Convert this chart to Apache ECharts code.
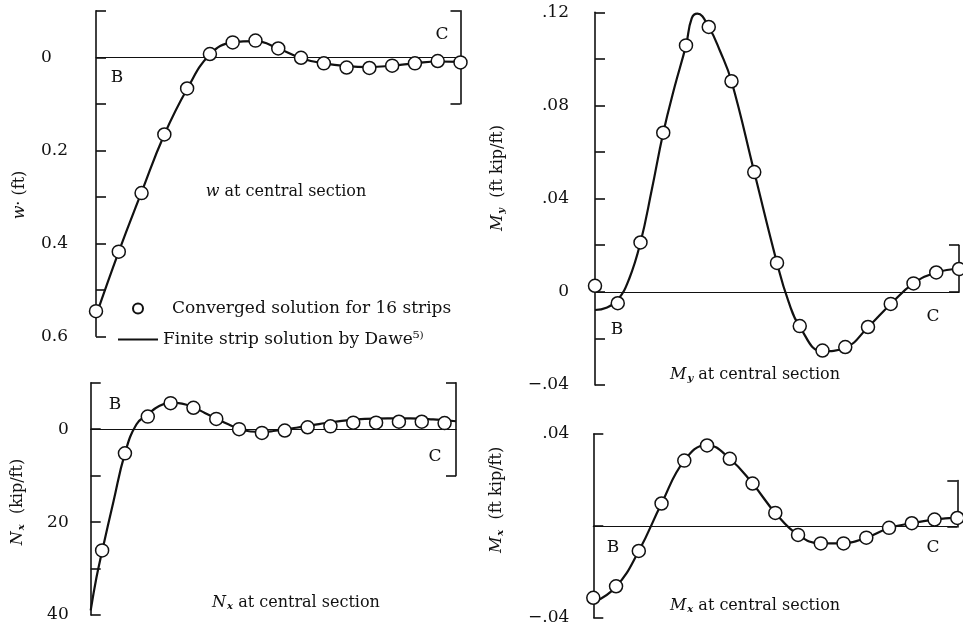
<!DOCTYPE html>
<html><head><meta charset="utf-8">
<script src="https://cdn.jsdelivr.net/npm/echarts@6/dist/echarts.min.js"></script>
<style>html,body{margin:0;padding:0;background:#fff}#c{width:963px;height:626px}</style>
</head><body><div id="c"></div>
<script>
// ---------- data ----------
const CONV = 'Converged solution for 16 strips';
const DAWE = 'Finite strip solution by Dawe\u2075\u207E';

const nodeX = [0,1,2,3,4,5,6,7,8,9,10,11,12,13,14,15,16];
const midX = [0.5,1.5,2.5,3.5,4.5,5.5,6.5,7.5,8.5,9.5,10.5,11.5,12.5,13.5,14.5,15.5];

// w at central section (ft), positive downward
const wConverged = [0.546,0.418,0.292,0.166,0.067,-0.007,-0.032,-0.036,-0.019,0.001,0.013,0.022,0.023,0.018,0.013,0.008,0.011];
const wDaweX = [0,1,2,3,4,5,6,7,8,9,10,11,12,13,14,15,16];
const wDawe = [0.556,0.418,0.290,0.166,0.068,-0.006,-0.032,-0.035,-0.019,0.002,0.013,0.019,0.021,0.018,0.013,0.009,0.010];

// My at central section (ft kip/ft)
const myConverged = [0.0026,-0.0049,0.0212,0.0683,0.1058,0.1137,0.0904,0.0514,0.0124,-0.0147,-0.0252,-0.0237,-0.0151,-0.0052,0.0036,0.0083,0.0098];
const myDaweX = [0,0.5,1,1.5,2,2.5,3,3.5,4,4.25,4.5,5,5.5,6,7,8,8.5,9,10,11,12,13,14,15,16];
const myDawe = [-0.0078,-0.0068,-0.0035,0.0055,0.0212,0.044,0.0683,0.088,0.1058,0.1174,0.1194,0.1137,0.1033,0.0904,0.0514,0.0124,-0.004,-0.0150,-0.0255,-0.0240,-0.0152,-0.0052,0.0036,0.0083,0.0098];

// Nx at central section (kip/ft), positive downward
const nxConverged = [26.1,5.2,-2.7,-5.6,-4.6,-2.2,0.0,0.8,0.3,-0.4,-0.6,-1.4,-1.4,-1.6,-1.6,-1.3];
const nxDaweX = [0,0.25,0.5,1,1.5,2,2.5,3,3.5,4,4.5,5,5.5,6,6.5,7,7.5,8,9,10,11,12,13,14,15,16];
const nxDawe = [39,32,26.3,15.5,5.2,-1.0,-3.2,-5.0,-5.7,-5.5,-4.7,-3.5,-2.3,-1.1,-0.1,0.5,0.6,0.4,-0.3,-1.1,-1.8,-2.2,-2.3,-2.3,-2.1,-1.7];

// Mx at central section (ft kip/ft)
const mxConverged = [-0.0314,-0.0264,-0.0110,0.0097,0.0284,0.0350,0.0292,0.0184,0.0056,-0.0040,-0.0077,-0.0077,-0.0052,-0.0009,0.0011,0.0027,0.0034];
const mxDaweX = [0,1,2,3,4,5,6,7,8,9,10,11,12,13,14,15,16];
const mxDawe = [-0.0335,-0.0266,-0.0110,0.0097,0.0284,0.0352,0.0292,0.0184,0.0056,-0.0040,-0.0077,-0.0077,-0.0052,-0.0010,0.0011,0.0027,0.0035];

// axis ranges / ticks / labels
const wAxis = {min:-0.1, max:0.6, interval:0.1, inverse:true};
const wTickValues = [0,0.2,0.4,0.6];
const wTickLabels = ['0','0.2','0.4','0.6'];
const wBracket = [-0.1,0.1];

const myAxis = {min:-0.04, max:0.12, interval:0.02, inverse:false};
const myTickValues = [-0.04,0,0.04,0.08,0.12];
const myTickLabels = ['\u2212.04','0','.04','.08','.12'];
const myBracket = [0,0.02];

const nxAxis = {min:-10, max:40, interval:10, inverse:true};
const nxTickValues = [0,20,40];
const nxTickLabels = ['0','20','40'];
const nxBracket = [-10,10];

const mxAxis = {min:-0.04, max:0.04, interval:0.04, inverse:false};
const mxTickValues = [-0.04,0.04];
const mxTickLabels = ['\u2212.04','.04'];
const mxBracket = [0,0.02];

// ---------- layout ----------
const FONT = 'DejaVu Serif';
const INK = '#111';
const panels = [
  {grid:{left:96, top:10.8, width:364.5, height:325.5}, axis:wAxis, tv:wTickValues, tl:wTickLabels, br:wBracket,
   conv:[nodeX,wConverged], dawe:[wDaweX,wDawe], label:{margin:55, align:'left'}},
  {grid:{left:595, top:12.3, width:364, height:372.7}, axis:myAxis, tv:myTickValues, tl:myTickLabels, br:myBracket,
   conv:[nodeX,myConverged], dawe:[myDaweX,myDawe], label:{margin:26, align:'right'}},
  {grid:{left:90.7, top:382.7, width:365.3, height:232.3}, axis:nxAxis, tv:nxTickValues, tl:nxTickLabels, br:nxBracket,
   conv:[midX,nxConverged], dawe:[nxDaweX,nxDawe], label:{margin:22, align:'right'}},
  {grid:{left:593.3, top:434, width:364, height:186}, axis:mxAxis, tv:mxTickValues, tl:mxTickLabels, br:mxBracket,
   conv:[nodeX,mxConverged], dawe:[mxDaweX,mxDawe], label:{margin:24, align:'right'}}
];

function pixY(p, v){
  const a = p.axis, g = p.grid;
  const f = a.inverse ? (v - a.min)/(a.max - a.min) : (a.max - v)/(a.max - a.min);
  return g.top + f*g.height;
}

const grid = [], xAxis = [], yAxis = [], series = [];
panels.forEach((p, i) => {
  grid.push(Object.assign({containLabel:false}, p.grid));
  xAxis.push({gridIndex:i, type:'value', min:0, max:16,
    axisLine:{show:true, onZero:true, lineStyle:{color:INK, width:1.2}},
    axisTick:{show:false}, axisLabel:{show:false}, splitLine:{show:false}});
  yAxis.push({gridIndex:i, type:'value', min:p.axis.min, max:p.axis.max, interval:p.axis.interval,
    inverse:p.axis.inverse, position:'left',
    axisLine:{show:true, onZero:false, lineStyle:{color:INK, width:1.6}},
    axisTick:{show:true, inside:true, length:10, lineStyle:{color:INK, width:1.6}},
    splitLine:{show:false},
    axisLabel:{show:true, margin:p.label.margin, align:p.label.align, fontFamily:FONT, fontSize:17, color:INK,
      formatter:(v)=>{ for(let k=0;k<p.tv.length;k++){ if(Math.abs(v-p.tv[k])<1e-9) return p.tl[k]; } return ''; }}
  });
  series.push({name:DAWE, type:'line', xAxisIndex:i, yAxisIndex:i, smooth:0.45, symbol:'none', showSymbol:false,
    itemStyle:{color:INK}, lineStyle:{color:INK, width:2.2}, z:2,
    data:p.dawe[0].map((x,k)=>[x,p.dawe[1][k]])});
  series.push({name:CONV, type:'scatter', xAxisIndex:i, yAxisIndex:i, symbol:'circle', symbolSize:13,
    itemStyle:{color:'#fff', borderColor:INK, borderWidth:1.5, opacity:1}, z:3,
    data:p.conv[0].map((x,k)=>[x,p.conv[1][k]])});
});
// right-hand brackets
panels.forEach((p, i) => {
  const y1 = pixY(p, p.br[0]), y2 = pixY(p, p.br[1]);
  const top = Math.min(y1,y2), h = Math.abs(y2-y1);
  const gi = grid.length;
  grid.push({left:p.grid.left, width:p.grid.width, top:top, height:h});
  xAxis.push({gridIndex:gi, type:'value', min:0, max:16, show:false});
  yAxis.push({gridIndex:gi, type:'value', min:p.br[0], max:p.br[1], interval:p.br[1]-p.br[0], position:'right',
    axisLine:{show:true, onZero:false, lineStyle:{color:INK, width:1.6}},
    axisTick:{show:true, inside:true, length:10, lineStyle:{color:INK, width:1.6}},
    axisLabel:{show:false}, splitLine:{show:false}});
});

const rich = {
  i:{fontFamily:FONT, fontStyle:'italic', fontSize:16, color:INK},
  s:{fontFamily:FONT, fontStyle:'italic', fontWeight:'bold', fontSize:10, color:INK, padding:[7,0,0,1]},
  n:{fontFamily:FONT, fontSize:16, color:INK}
};
function txt(x, y, text, rot, size){
  return {type:'text', x:x, y:y, rotation:rot||0, silent:true,
    style:{text:text, rich:rich, align:'center', verticalAlign:'middle', fill:INK,
      fontFamily:FONT, fontSize:size||16}};
}
const graphic = [
  txt(286, 192, '{i|w}{n| at central section}'),
  txt(755, 375, '{i|M}{s|y}{n| at central section}'),
  txt(296, 603, '{i|N}{s|x}{n| at central section}'),
  txt(755, 606, '{i|M}{s|x}{n| at central section}'),
  txt(20, 195, '{i|w}{n|\u00B7 (ft)}', Math.PI/2),
  txt(498, 178, '{i|M}{s|y}{n|  (ft kip/ft)}', Math.PI/2),
  txt(18, 502, '{i|N}{s|x}{n|  (kip/ft)}', Math.PI/2),
  txt(497, 500, '{i|M}{s|x}{n|  (ft kip/ft)}', Math.PI/2),
  txt(117, 78, 'B', 0, 17), txt(442, 35, 'C', 0, 17),
  txt(617, 330, 'B', 0, 17), txt(933, 317, 'C', 0, 17),
  txt(115, 405, 'B', 0, 17), txt(435, 457, 'C', 0, 17),
  txt(613, 548, 'B', 0, 17), txt(933, 548, 'C', 0, 17)
];

const chart = echarts.init(document.getElementById('c'), null, {renderer:'canvas'});
chart.setOption({
  animation:false,
  backgroundColor:'#fff',
  grid:grid, xAxis:xAxis, yAxis:yAxis, series:series,
  legend:{orient:'vertical', left:113, top:295, itemWidth:40, itemHeight:10, itemGap:14,
    symbolKeepAspect:true,
    textStyle:{fontFamily:FONT, fontSize:17, color:INK},
    data:[{name:CONV, textStyle:{padding:[0,0,0,9]}},
          {name:DAWE, icon:'path://M0,0H40V2H0Z', itemStyle:{color:INK}}]},
  graphic:graphic
});
</script></body></html>
